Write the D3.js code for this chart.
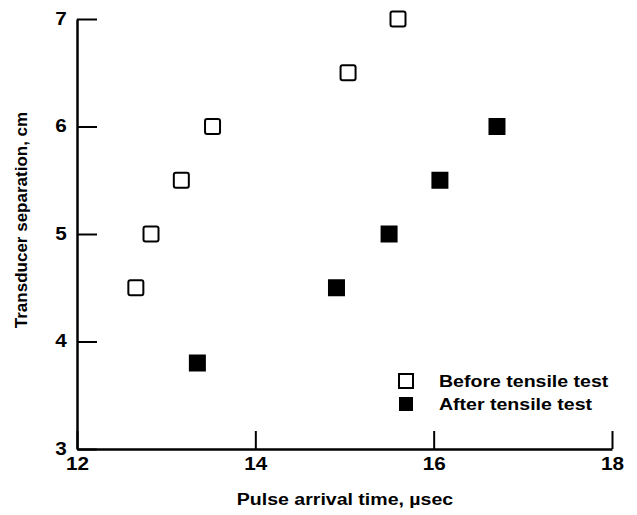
<!DOCTYPE html>
<html>
<head>
<meta charset="utf-8">
<script src="https://cdn.jsdelivr.net/npm/d3@7"></script>
<style>
  body { margin: 0; background: #fff; }
  svg text { font-family: "Liberation Sans", Arial, Helvetica, sans-serif; font-weight: bold; fill: #000; }
</style>
</head>
<body>
<svg class="chart"></svg>
<script>
// pulse arrival time (µsec) vs transducer separation (cm)
const beforeTime = [12.66, 12.83, 13.17, 13.52, 15.04, 15.6];
const beforeSep = [4.5, 5.0, 5.5, 6.0, 6.5, 7.0];
const afterTime = [13.35, 14.91, 15.5, 16.07, 16.71];
const afterSep = [3.8, 4.5, 5.0, 5.5, 6.0];
const xTicks = [12, 14, 16, 18];
const yTicks = [3, 4, 5, 6, 7];
const legendLabels = ['Before tensile test', 'After tensile test'];

const [width, height] = [637, 515];
const svg = d3.select('.chart').attr('width', width).attr('height', height);

const x = d3.scaleLinear().domain([12, 18]).range([77, 612]);
const y = d3.scaleLinear().domain([3, 7]).range([449, 19]);
const stretch = 'scale(1.15,1)'; // the scan's lettering is a bit wide

const xAxis = svg.append('g')
  .attr('transform', `translate(0,${y(3)})`)
  .call(d3.axisBottom(x).tickValues(xTicks).tickFormat(d3.format('d')).tickSizeInner(-18).tickSizeOuter(0));
const yAxis = svg.append('g')
  .attr('transform', `translate(${x(12)},0)`)
  .call(d3.axisLeft(y).tickValues(yTicks).tickFormat(d3.format('d')).tickSizeInner(-20).tickSizeOuter(0));

[xAxis, yAxis].forEach((g) => {
  g.select('.domain').attr('stroke', '#000').attr('stroke-width', 2.5);
  g.selectAll('.tick line').attr('stroke', '#000').attr('stroke-width', 2);
  g.selectAll('.tick text').attr('font-size', 18).attr('fill', '#000').attr('transform', stretch)
    .style('font-family', '"Liberation Sans", Arial, sans-serif').style('font-weight', 'bold');
});
xAxis.selectAll('.tick text').attr('y', 8).attr('dy', '0.71em');
yAxis.selectAll('.tick text').attr('x', -9).attr('dy', '0.3em');

const size = 15;
svg.append('g').selectAll('rect')
  .data(beforeTime.map((t, i) => [t, beforeSep[i]]))
  .join('rect')
  .attr('x', (d) => x(d[0]) - size / 2)
  .attr('y', (d) => y(d[1]) - size / 2)
  .attr('width', size).attr('height', size).attr('rx', 2)
  .attr('fill', '#fff').attr('stroke', '#000').attr('stroke-width', 2);

svg.append('g').selectAll('rect')
  .data(afterTime.map((t, i) => [t, afterSep[i]]))
  .join('rect')
  .attr('x', (d) => x(d[0]) - size / 2 - 1)
  .attr('y', (d) => y(d[1]) - size / 2 - 1)
  .attr('width', size + 2).attr('height', size + 2)
  .attr('fill', '#000');

// legend
const legend = svg.append('g').attr('transform', 'translate(406,381)');
legendLabels.forEach((label, i) => {
  const row = legend.append('g').attr('transform', `translate(0,${i * 23})`);
  row.append('rect')
    .attr('x', -7).attr('y', -7).attr('width', 14).attr('height', 14)
    .attr('fill', i === 0 ? '#fff' : '#000')
    .attr('stroke', '#000').attr('stroke-width', i === 0 ? 2 : 0);
  row.append('text').attr('transform', `translate(33,6) ${stretch}`).attr('font-size', 17).text(label);
});

svg.append('text')
  .attr('transform', `translate(345,505) ${stretch}`)
  .attr('text-anchor', 'middle').attr('font-size', 17)
  .text('Pulse arrival time, \u00b5sec');

svg.append('text')
  .attr('transform', 'translate(27,220) rotate(-90)')
  .attr('text-anchor', 'middle').attr('font-size', 17)
  .text('Transducer separation, cm');
</script>
</body>
</html>
